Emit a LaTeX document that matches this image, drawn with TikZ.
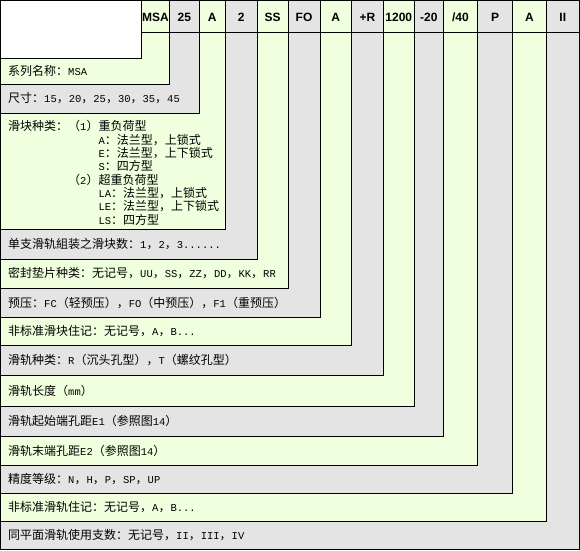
\documentclass[tikz,border=0pt]{standalone}
\usepackage{fontspec}
\usepackage{xcolor}
\usepackage{tikz}
\usetikzlibrary{positioning,calc}
\newfontfamily\cjkfont{Noto Sans CJK SC}
\newfontfamily\ltnfont[Scale=0.875]{Liberation Mono}
\newfontfamily\hdfont{Liberation Sans}
\newcommand\ltn[1]{{\ltnfont #1}}
\definecolor{bandylw}{RGB}{240,255,222}
\definecolor{bandgry}{RGB}{228,228,228}

\begin{document}
\begin{tikzpicture}[x=1pt,y=-1pt,
            band/.style={draw, line width=1pt, fill=#1},
            code/.style={font=\hdfont\bfseries\fontsize{12}{14}\selectfont, inner sep=0pt, text height=8.6pt, text depth=0pt},
            item/.style={anchor=west, inner sep=0pt, font=\cjkfont\fontsize{12}{13.3}\selectfont}]

            \useasboundingbox (0,0) rectangle (580,550);

            % Bands, outermost first
            \draw[band=bandgry] (0.5,0.5) rectangle (579,549);
            \draw[band=bandylw] (0.5,0.5) rectangle (546.5,521);
            \draw[band=bandgry] (0.5,0.5) rectangle (512.5,493);
            \draw[band=bandylw] (0.5,0.5) rectangle (477.5,465);
            \draw[band=bandgry] (0.5,0.5) rectangle (443.3,436);
            \draw[band=bandylw] (0.5,0.5) rectangle (414.3,406);
            \draw[band=bandgry] (0.5,0.5) rectangle (383.3,375);
            \draw[band=bandylw] (0.5,0.5) rectangle (351.5,345);
            \draw[band=bandgry] (0.5,0.5) rectangle (320,317);
            \draw[band=bandylw] (0.5,0.5) rectangle (288,288);
            \draw[band=bandgry] (0.5,0.5) rectangle (257,259);
            \draw[band=bandylw] (0.5,0.5) rectangle (225.3,229);
            \draw[band=bandgry] (0.5,0.5) rectangle (199.3,113);
            \draw[band=bandylw] (0.5,0.5) rectangle (169.5,84);

            % Blank corner and header line
            \draw[band=white] (0.5,0.5) rectangle (141.5,58);
            \draw[line width=1pt] (141.5,32) -- (579,32);

            % Code letters
            \node[code] (cseries) at (155.5,17.5) {MSA};
            \node[code] (csize) at (184.4,17.5) {25};
            \node[code] (cblock) at (212.3,17.5) {A};
            \node[code] (cnum) at (241.2,17.5) {2};
            \node[code] (cseal) at (272.5,17.5) {SS};
            \node[code] (cpre) at (304,17.5) {FO};
            \node[code] (cspec) at (335.8,17.5) {A};
            \node[code] (crail) at (367.4,17.5) {+R};
            \node[code] (clen) at (398.8,17.5) {1200};
            \node[code] (cstart) at (428.8,17.5) {-20};
            \node[code] (cend) at (460.4,17.5) {/40};
            \node[code] (cgrade) at (495,17.5) {P};
            \node[code] (crspec) at (529.5,17.5) {A};
            \node[code] (cpair) at (562.8,17.5) {II};

            % Meaning of each code
            \node[item] (series) at (8,71) {系列名称：\ltn{MSA}};
            \node[item] (size) at (8,98.5) {尺寸：\ltn{15}，\ltn{20}，\ltn{25}，\ltn{30}，\ltn{35}，\ltn{45}};
            \node[item, anchor=north west, align=left] (block) at (8,120.5) {滑块种类：（\ltn{1}）重负荷型\\
                \phantom{滑块种类：（\ltn{1}）}\ltn{A}：法兰型，上锁式\\
                \phantom{滑块种类：（\ltn{1}）}\ltn{E}：法兰型，上下锁式\\
                \phantom{滑块种类：（\ltn{1}）}\ltn{S}：四方型\\
                \phantom{滑块种类：}（\ltn{2}）超重负荷型\\
                \phantom{滑块种类：（\ltn{1}）}\ltn{LA}：法兰型，上锁式\\
                \phantom{滑块种类：（\ltn{1}）}\ltn{LE}：法兰型，上下锁式\\
                \phantom{滑块种类：（\ltn{1}）}\ltn{LS}：四方型};
            \node[item] (num) at (8,244) {单支滑轨組装之滑块数：\ltn{1}，\ltn{2}，\ltn{3......}};
            \node[item] (seal) at (8,273.5) {密封垫片种类：无记号，\ltn{UU}，\ltn{SS}，\ltn{ZZ}，\ltn{DD}，\ltn{KK}，\ltn{RR}};
            \node[item] (pre) at (8,302.5) {预压：\ltn{FC}（轻预压），\ltn{FO}（中预压），\ltn{F1}（重预压）};
            \node[item] (spec) at (8,331) {非标准滑块住记：无记号，\ltn{A}，\ltn{B...}};
            \node[item] (rail) at (8,360) {滑轨种类：\ltn{R}（沉头孔型），\ltn{T}（螺纹孔型）};
            \node[item] (len) at (8,390.5) {滑轨长度（\ltn{mm}）};
            \node[item] (start) at (8,421) {滑轨起始端孔距\ltn{E1}（参照图\ltn{14}）};
            \node[item] (end) at (8,450.5) {滑轨末端孔距\ltn{E2}（参照图\ltn{14}）};
            \node[item] (grade) at (8,479) {精度等级：\ltn{N}，\ltn{H}，\ltn{P}，\ltn{SP}，\ltn{UP}};
            \node[item] (rspec) at (8,507) {非标准滑轨住记：无记号，\ltn{A}，\ltn{B...}};
            \node[item] (pair) at (8,535) {同平面滑轨使用支数：无记号，\ltn{II}，\ltn{III}，\ltn{IV}};
        \end{tikzpicture}
\end{document}
